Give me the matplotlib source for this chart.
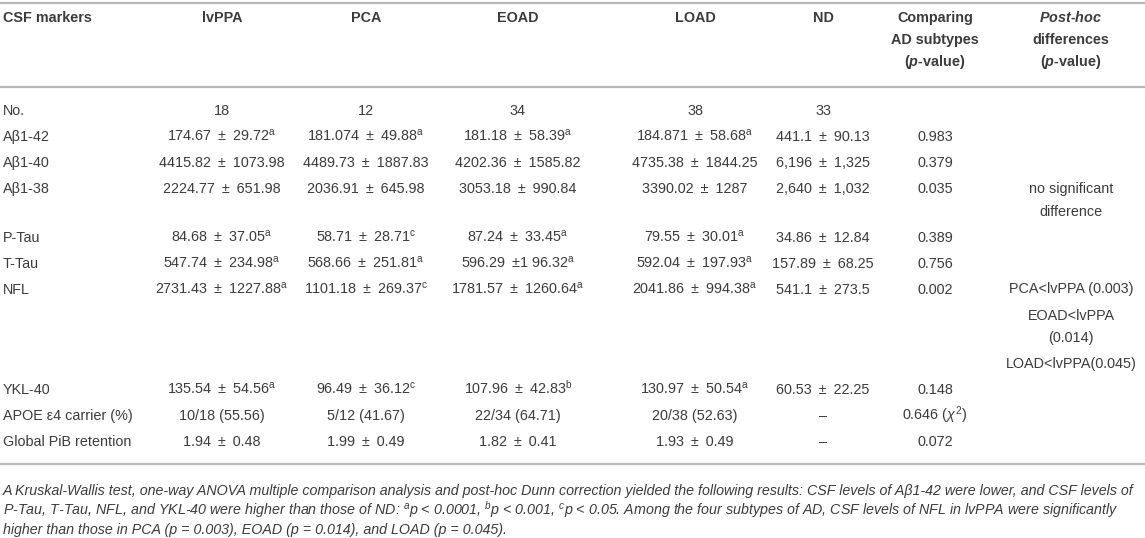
import matplotlib
matplotlib.use("Agg")
import matplotlib.pyplot as plt

# ── Table content ──────────────────────────────
columns = ["lvPPA", "PCA", "EOAD", "LOAD", "ND"]
markers = ["No.", "Aβ1-42", "Aβ1-40", "Aβ1-38", "P-Tau", "T-Tau", "NFL",
           "YKL-40", "APOE ε4 carrier (%)", "Global PiB retention"]

lvppa = ["18", "174.67 ± 29.72", "4415.82 ± 1073.98", "2224.77 ± 651.98",
         "84.68 ± 37.05", "547.74 ± 234.98", "2731.43 ± 1227.88",
         "135.54 ± 54.56", "10/18 (55.56)", "1.94 ± 0.48"]
lvppa_sup = ["", "a", "", "", "a", "a", "a", "a", "", ""]

pca = ["12", "181.074 ± 49.88", "4489.73 ± 1887.83", "2036.91 ± 645.98",
       "58.71 ± 28.71", "568.66 ± 251.81", "1101.18 ± 269.37",
       "96.49 ± 36.12", "5/12 (41.67)", "1.99 ± 0.49"]
pca_sup = ["", "a", "", "", "c", "a", "c", "c", "", ""]

eoad = ["34", "181.18 ± 58.39", "4202.36 ± 1585.82", "3053.18 ± 990.84",
        "87.24 ± 33.45", "596.29 ±1 96.32", "1781.57 ± 1260.64",
        "107.96 ± 42.83", "22/34 (64.71)", "1.82 ± 0.41"]
eoad_sup = ["", "a", "", "", "a", "a", "a", "b", "", ""]

load = ["38", "184.871 ± 58.68", "4735.38 ± 1844.25", "3390.02 ± 1287",
        "79.55 ± 30.01", "592.04 ± 197.93", "2041.86 ± 994.38",
        "130.97 ± 50.54", "20/38 (52.63)", "1.93 ± 0.49"]
load_sup = ["", "a", "", "", "a", "a", "a", "a", "", ""]

nd = ["33", "441.1 ± 90.13", "6,196 ± 1,325", "2,640 ± 1,032",
      "34.86 ± 12.84", "157.89 ± 68.25", "541.1 ± 273.5",
      "60.53 ± 22.25", "–", "–"]
nd_sup = [""] * 10

p_subtypes = ["", "0.983", "0.379", "0.035", "0.389", "0.756", "0.002",
              "0.148", r"0.646 ($\chi^{2}$)", "0.072"]

posthoc = [[], [], [], ["no significant\ndifference"], [], [],
           ["PCA<lvPPA (0.003)", "EOAD<lvPPA\n(0.014)", "LOAD<lvPPA(0.045)"],
           [], [], []]

footnote = [
    "A Kruskal-Wallis test, one-way ANOVA multiple comparison analysis and post-hoc Dunn correction "
    "yielded the following results: CSF levels of Aβ1-42 were lower, and CSF levels of",
    r"P-Tau, T-Tau, NFL, and YKL-40 were higher than those of ND: $^{a}$p < 0.0001, $^{b}$p < 0.001, "
    r"$^{c}$p < 0.05. Among the four subtypes of AD, CSF levels of NFL in lvPPA were significantly",
    "higher than those in PCA (p = 0.003), EOAD (p = 0.014), and LOAD (p = 0.045).",
]

# ── Style ──────────────────────────────────────
FONT = "Liberation Sans"
plt.rcParams["font.family"] = [FONT, "DejaVu Sans"]
plt.rcParams["mathtext.fontset"] = "custom"
plt.rcParams["mathtext.rm"] = FONT
plt.rcParams["mathtext.it"] = FONT + ":italic"
plt.rcParams["mathtext.bf"] = FONT + ":bold"
plt.rcParams["mathtext.bfit"] = FONT + ":italic:bold"

TXT = "#3c3c3c"
RULE = "#b8b8b8"
BODY = 10.4
SMALL = 10.3

W, H = 1145, 538
fig = plt.figure(figsize=(W / 100, H / 100), dpi=100)
ax = fig.add_axes([0, 0, 1, 1])
ax.set_xlim(0, W)
ax.set_ylim(H, 0)
ax.axis("off")

col_x = [222, 366, 518, 695, 823]
comp_x, post_x, left_x = 935, 1071, 3
base = 5  # baseline offset from visual text centre (px)


def put(x, y, s, ha="center", **kw):
    ax.text(x, y + base, s, ha=ha, va="baseline", color=TXT,
            fontsize=kw.pop("size", BODY), **kw)


def cell(v, s):
    # the source table sets "±" a little wider than a plain space
    v = v.replace(" ± ", " \u2009±\u2009 ").replace(" ±1", " \u2009±1")
    return v + (r"$^{\mathrm{%s}}$" % s if s else "")


# rules
for yr in (3, 87, 464):
    ax.plot([0, W], [yr, yr], color=RULE, lw=1.6, solid_capstyle="butt")

# header
hy = [17, 39, 61]
put(left_x, hy[0], "CSF markers", ha="left", weight="bold")
for x, c in zip(col_x, columns):
    put(x, hy[0], c, weight="bold")
for k, line in enumerate(["Comparing", "AD subtypes", r"($\mathbfit{p}$-value)"]):
    put(comp_x, hy[k], line, weight="bold")
for k, line in enumerate([r"$\mathbfit{Post}$-$\mathbfit{hoc}$", "differences",
                          r"($\mathbfit{p}$-value)"]):
    put(post_x, hy[k], line, weight="bold")

# body
groups = [(lvppa, lvppa_sup), (pca, pca_sup), (eoad, eoad_sup),
          (load, load_sup), (nd, nd_sup)]
LINE, ROW = 22.5, 26
y = 110
for i, m in enumerate(markers):
    put(left_x, y, m, ha="left")
    for x, (vals, sups) in zip(col_x, groups):
        put(x, y, cell(vals[i], sups[i]))
    if p_subtypes[i]:
        put(comp_x, y, p_subtypes[i])
    yy = y
    paras = posthoc[i]
    for k, para in enumerate(paras):
        lines = para.split("\n")
        for j, line in enumerate(lines):
            put(post_x, yy, line)
            if j < len(lines) - 1:
                yy += LINE
        if k < len(paras) - 1:
            yy += ROW
    y = yy + ROW

# footnote
for k, line in enumerate(footnote):
    put(left_x, 490 + 19.5 * k, line, ha="left", style="italic", size=SMALL)

plt.savefig("out.png", dpi=100)
